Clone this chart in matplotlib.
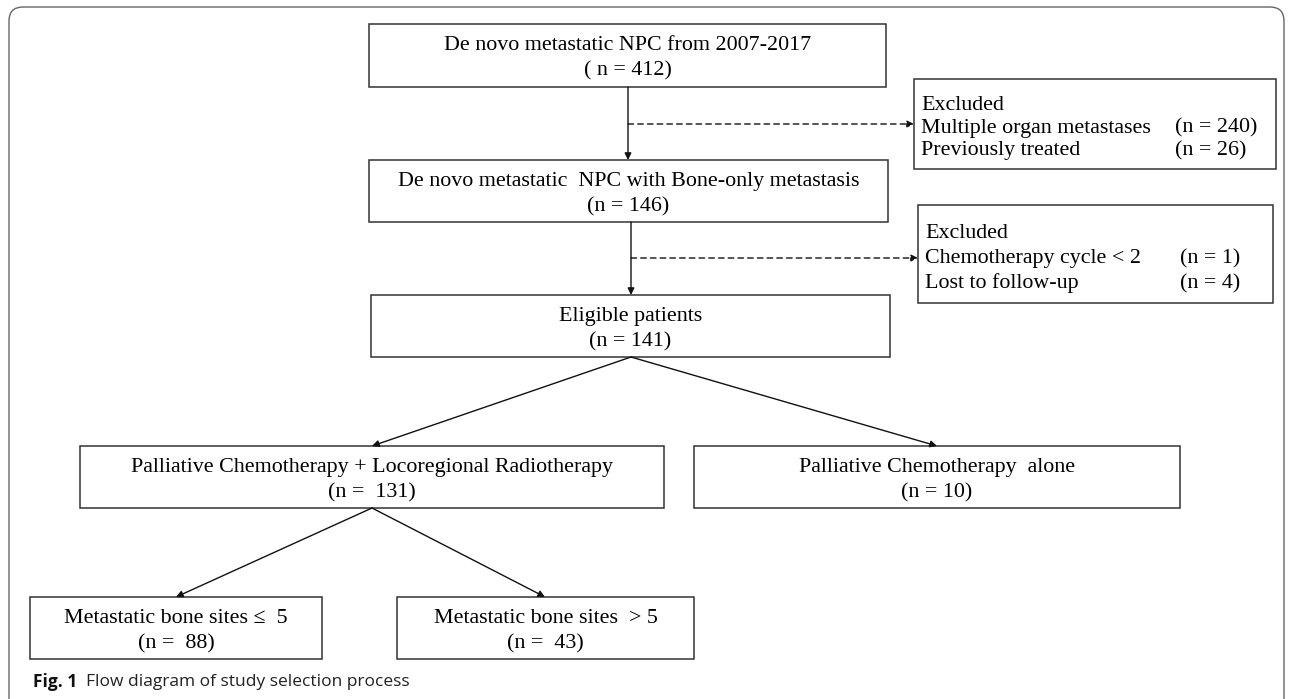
import matplotlib
matplotlib.use("Agg")
import matplotlib.pyplot as plt
from matplotlib.patches import Rectangle, FancyBboxPatch

# ---- data ----
stage_labels = ["De novo metastatic NPC from 2007-2017",
                "De novo metastatic  NPC with Bone-only metastasis",
                "Eligible patients",
                "Palliative Chemotherapy + Locoregional Radiotherapy",
                "Palliative Chemotherapy  alone",
                "Metastatic bone sites \u2264  5",
                "Metastatic bone sites  > 5"]
stage_n = [412, 146, 141, 131, 10, 88, 43]
stage_n_fmt = ["( n = {})", "(n = {})", "(n = {})", "(n =  {})", "(n = {})", "(n =  {})", "(n =  {})"]
excl1_reasons = ["Multiple organ metastases", "Previously treated"]
excl1_n = [240, 26]
excl2_reasons = ["Chemotherapy cycle < 2", "Lost to follow-up"]
excl2_n = [1, 4]
caption_bold = "Fig. 1"
caption_text = "Flow diagram of study selection process"

W, H = 1292, 699
fig = plt.figure(figsize=(W / 100, H / 100), dpi=100)
ax = fig.add_axes([0, 0, 1, 1])
ax.set_xlim(0, W)
ax.set_ylim(H, 0)
ax.axis("off")

serif = "Liberation Serif"
fs = 15.8
edge = "#333333"

# outer frame
frame = FancyBboxPatch((9, 7), 1275, 760, boxstyle="round,pad=0,rounding_size=14",
                       fc="none", ec="#666666", lw=1.0)
ax.add_patch(frame)

# box layout: (x0, x1, y0, y1)
boxes = [(369, 886, 24, 87),
         (369, 888, 160, 222),
         (371, 890, 295, 357),
         (80, 664, 446, 508),
         (694, 1180, 446, 508),
         (30, 322, 597, 659),
         (397, 694, 597, 659)]

for (x0, x1, y0, y1), lab, n, f in zip(boxes, stage_labels, stage_n, stage_n_fmt):
    ax.add_patch(Rectangle((x0, y0), x1 - x0, y1 - y0, fc="white", ec=edge, lw=1.1))
    cx = (x0 + x1) / 2
    h = y1 - y0
    ax.text(cx, y0 + h * 0.34, lab, ha="center", va="center", family=serif, fontsize=fs)
    ax.text(cx, y0 + h * 0.75, f.format(n), ha="center", va="center", family=serif, fontsize=fs)

# exclusion boxes
excl_boxes = [(914, 1276, 79, 169), (918, 1273, 205, 303)]
excl_data = [(excl1_reasons, excl1_n), (excl2_reasons, excl2_n)]
excl_ncol = [1175, 1180]
for (x0, x1, y0, y1), (reasons, ns), ncx in zip(excl_boxes, excl_data, excl_ncol):
    ax.add_patch(Rectangle((x0, y0), x1 - x0, y1 - y0, fc="white", ec=edge, lw=1.1))
    h = y1 - y0
    ys = [y0 + h * 0.29, y0 + h * 0.545, y0 + h * 0.80]
    ax.text(x0 + 7, ys[0], "Excluded", ha="left", va="center", family=serif, fontsize=fs)
    for yy, r, n in zip(ys[1:], reasons, ns):
        ax.text(x0 + 7, yy, r, ha="left", va="center", family=serif, fontsize=fs)
        ax.text(ncx, yy, "(n = {})".format(n), ha="left", va="center", family=serif, fontsize=fs)

def arrow(p0, p1, dashed=False):
    ax.annotate("", xy=p1, xytext=p0,
                arrowprops=dict(arrowstyle="-|>", color="#111111", lw=1.0,
                                linestyle=(0, (4, 3)) if dashed else "-",
                                mutation_scale=10, shrinkA=0, shrinkB=0))

arrow((628, 87), (628, 160))
arrow((628, 124), (914, 124), dashed=True)
arrow((631, 222), (631, 295))
arrow((631, 258), (918, 258), dashed=True)
arrow((631, 357), (372, 446))
arrow((631, 357), (937, 446))
arrow((372, 508), (176, 597))
arrow((372, 508), (545, 597))

# caption
t = ax.text(33, 682, caption_bold, ha="left", va="center", family="Open Sans",
            fontweight="bold", fontsize=12.5, color="#111111")
fig.canvas.draw()
bb = t.get_window_extent()
inv = ax.transData.inverted()
xd = inv.transform((bb.x1, 0))[0]
ax.text(xd + 9, 682, caption_text, ha="left", va="center", family="Open Sans",
        fontsize=12.5, color="#222222")

fig.savefig("out.png", dpi=100)
